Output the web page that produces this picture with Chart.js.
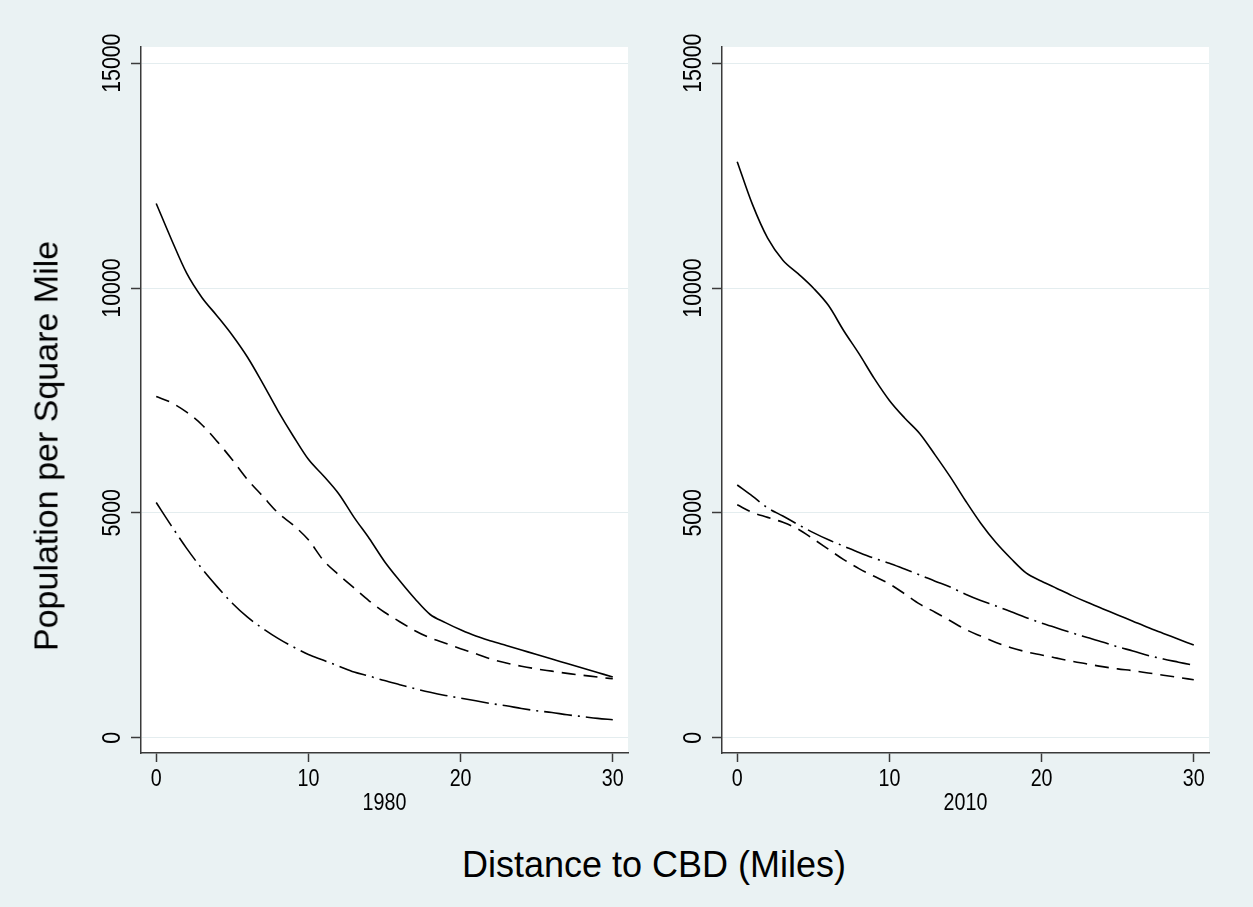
<!DOCTYPE html>
<html>
<head>
<meta charset="utf-8">
<script src="https://cdn.jsdelivr.net/npm/chart.js@4.4.1/dist/chart.umd.min.js"></script>
<style>
  html, body { margin: 0; padding: 0; background: #eaf2f3; }
  #wrap { position: relative; width: 1253px; height: 907px; overflow: hidden;
          font-family: 'Liberation Sans', Arial, sans-serif; color: #000; }
  #c1 { position: absolute; left: 0; top: 0; }
  #c2 { position: absolute; left: 640px; top: 0; }
  .ytitle { position: absolute; left: 46px; top: 446px; font-size: 34px; white-space: nowrap;
            transform: translate(-50%, -50%) rotate(-90deg); }
  .xtitle { position: absolute; left: 654px; top: 865px; font-size: 36px; white-space: nowrap;
            transform: translate(-50%, -50%); }
</style>
</head>
<body>
<div id="wrap">
  <canvas id="c1" width="640" height="830"></canvas>
  <canvas id="c2" width="613" height="830"></canvas>
  <div class="ytitle">Population per Square Mile</div>
  <div class="xtitle">Distance to CBD (Miles)</div>
</div>
<script>
// distance to CBD in miles
const distances = [0, 1, 2, 3, 4, 5, 6, 7, 8, 9, 10, 11, 12, 13, 14, 15,
  16, 17, 18, 19, 20, 21, 22, 23, 24, 25, 26, 27, 28, 29, 30];

// 1980
const solid1980 = [11880, 11080, 10330, 9790, 9380, 8950, 8460, 7880, 7270, 6710, 6190,
  5820, 5420, 4900, 4430, 3920, 3490, 3090, 2740, 2560, 2400,
  2260, 2150, 2050, 1950, 1850, 1750, 1650, 1550, 1450, 1350];
const dashed1980 = [7590, 7450, 7240, 6960, 6590, 6180, 5740, 5370, 5000, 4730, 4400,
  3940, 3620, 3330, 3040, 2790, 2580, 2380, 2220, 2100, 1980,
  1870, 1750, 1660, 1590, 1530, 1480, 1430, 1390, 1350, 1310];
const dashdot1980 = [5230, 4710, 4210, 3760, 3360, 2990, 2680, 2430, 2210, 2020, 1850,
  1720, 1590, 1460, 1370, 1270, 1180, 1090, 1010, 940, 880,
  820, 760, 710, 650, 600, 560, 510, 470, 430, 400];

// 2010
const solid2010 = [12810, 11860, 11110, 10620, 10320, 10000, 9610, 9050, 8540, 7990, 7500,
  7110, 6760, 6290, 5800, 5270, 4770, 4340, 3980, 3660, 3480,
  3320, 3160, 3010, 2870, 2730, 2590, 2450, 2320, 2190, 2060];
const dashed2010 = [5180, 5010, 4900, 4790, 4640, 4420, 4190, 3960, 3760, 3590, 3420,
  3200, 2970, 2790, 2600, 2410, 2260, 2120, 2000, 1910, 1840,
  1770, 1700, 1640, 1580, 1530, 1490, 1440, 1390, 1340, 1290];
const dashdot2010 = [5620, 5370, 5110, 4930, 4740, 4560, 4400, 4260, 4120, 3990, 3880,
  3750, 3620, 3480, 3350, 3190, 3050, 2930, 2800, 2670, 2550,
  2440, 2330, 2230, 2130, 2020, 1930, 1830, 1750, 1680, 1610];

const xTicks = [0, 10, 20, 30];
const xTickLabels = ['0', '10', '20', '30'];
const yTicks = [0, 5000, 10000, 15000];
const yTickLabels = ['0', '5000', '10000', '15000'];

const fontFamily = "'Liberation Sans', Arial, sans-serif";
const axisColor = '#3a3a3a';
const squeeze = 0.82; // labels in the picture are narrow

const plotBg = {
  id: 'plotBg',
  beforeDraw(chart) {
    const { ctx, chartArea: a } = chart;
    ctx.save();
    ctx.fillStyle = '#ffffff';
    ctx.fillRect(a.left, a.top, a.right - a.left, a.bottom - a.top);
    ctx.restore();
  }
};

function narrowText(ctx, text, x, y, size, angle) {
  ctx.save();
  ctx.translate(x, y);
  ctx.rotate(angle);
  ctx.scale(squeeze, 1);
  ctx.font = size + 'px ' + fontFamily;
  ctx.fillText(text, 0, 0);
  ctx.restore();
}

// tick labels and panel caption, drawn from the scales
const axisLabels = {
  id: 'axisLabels',
  afterDraw(chart, args, opts) {
    const sy = chart.scales.y;
    const sx = chart.scales.x;
    const ctx = chart.ctx;
    ctx.save();
    ctx.fillStyle = '#000';
    ctx.textAlign = 'center';
    ctx.textBaseline = 'middle';
    yTicks.forEach((v, i) => {
      narrowText(ctx, yTickLabels[i], sy.right - 28, sy.getPixelForValue(v), 26, -Math.PI / 2);
    });
    xTicks.forEach((v, i) => {
      narrowText(ctx, xTickLabels[i], sx.getPixelForValue(v), sx.top + 26, 24, 0);
    });
    narrowText(ctx, opts.caption, (sx.left + sx.right) / 2, sx.top + 50, 24, 0);
    ctx.restore();
  }
};

function pts(values) {
  return distances.map((x, i) => ({ x: x, y: values[i] }));
}

function line(values, dash) {
  return {
    data: pts(values),
    borderColor: '#000',
    borderWidth: 1.6,
    borderDash: dash,
    pointRadius: 0,
    cubicInterpolationMode: 'monotone',
    fill: false
  };
}

function makePanel(canvas, year, solid, dashed, dashdot, yWidth, padRight) {
  new Chart(canvas.getContext('2d'), {
    type: 'line',
    data: {
      datasets: [
        line(solid, []),
        line(dashed, [14, 8]),
        line(dashdot, [28, 6, 2, 6])
      ]
    },
    options: {
      responsive: false,
      animation: false,
      layout: { padding: { left: 0, top: 47, right: padRight, bottom: 0 } },
      plugins: {
        legend: { display: false },
        tooltip: { enabled: false },
        axisLabels: { caption: year }
      },
      scales: {
        x: {
          type: 'linear',
          min: -1,
          max: 31,
          afterBuildTicks: s => { s.ticks = xTicks.map(v => ({ value: v })); },
          afterFit: s => { s.height = 77; },
          grid: { drawOnChartArea: false, drawTicks: true, tickLength: 9,
                  tickColor: axisColor, tickWidth: 1.5 },
          border: { display: true, color: axisColor, width: 1.5 },
          ticks: { display: false }
        },
        y: {
          type: 'linear',
          min: -340,
          max: 15360,
          afterBuildTicks: s => { s.ticks = yTicks.map(v => ({ value: v })); },
          afterFit: s => { s.width = yWidth; },
          grid: { color: '#e4edef', lineWidth: 1, tickLength: 10,
                  tickColor: axisColor, tickWidth: 1.5 },
          border: { display: true, color: axisColor, width: 1.5 },
          ticks: { display: false }
        }
      }
    },
    plugins: [plotBg, axisLabels]
  });
}

makePanel(document.getElementById('c1'), '1980', solid1980, dashed1980, dashdot1980, 141, 12);
makePanel(document.getElementById('c2'), '2010', solid2010, dashed2010, dashdot2010, 82, 44);
</script>
</body>
</html>
